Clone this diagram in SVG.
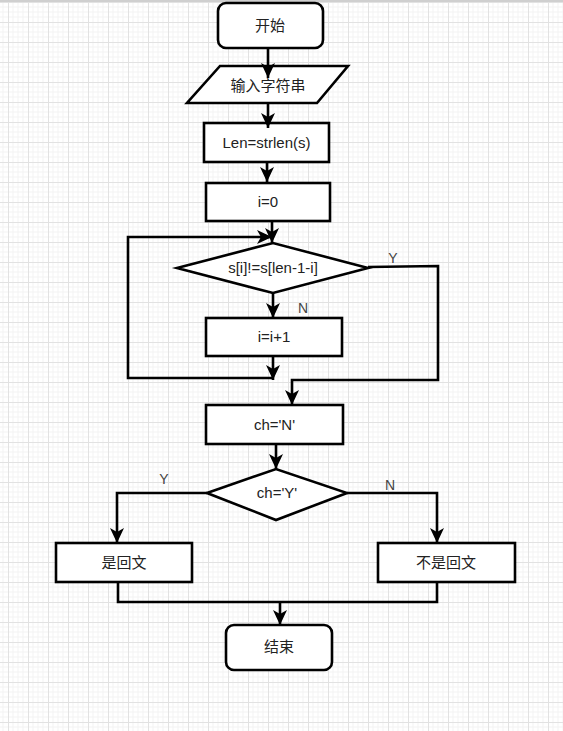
<svg xmlns="http://www.w3.org/2000/svg" width="563" height="731" viewBox="0 0 563 731">
<defs>
<pattern id="grid" patternUnits="userSpaceOnUse" x="8" y="2" width="20" height="20">
<rect width="20" height="20" fill="#ffffff"/>
<path d="M5,0V20M10,0V20M15,0V20M0,5H20M0,10H20M0,15H20" stroke="#f3f3f3" stroke-width="1" fill="none"/>
<path d="M0.5,0V20M0,0.5H20" stroke="#e2e2e2" stroke-width="1" fill="none"/>
</pattern>
<marker id="arr" markerUnits="userSpaceOnUse" markerWidth="16" markerHeight="16" refX="15" refY="7" orient="auto">
<path d="M0,0 L15,7 L0,14 L4,7 z" fill="#000"/>
</marker>
<style>
.box{fill:#fff;stroke:#000;stroke-width:2.6}
.ln{fill:none;stroke:#000;stroke-width:2.6}
.t{font-family:"Liberation Sans","Noto Sans CJK SC",sans-serif;font-size:15px;fill:#222;text-anchor:middle}
.lb{font-family:"Liberation Sans",sans-serif;font-size:14px;fill:#444;text-anchor:middle}
</style>
</defs>
<rect width="563" height="731" fill="url(#grid)"/>
<rect x="0" y="0" width="563" height="2" fill="#cfcfcf"/>

<g id="start">
<rect class="box" x="218" y="3" width="105" height="45" rx="8"/>
<text class="t" x="270" y="31">开始</text>
</g>
<g id="input">
<polygon class="box" points="220,66 348,66 317,103 187,103"/>
<text class="t" x="268" y="91">输入字符串</text>
</g>
<g id="len">
<rect class="box" x="204" y="123" width="125" height="39"/>
<text class="t" x="266.5" y="148">Len=strlen(s)</text>
</g>
<g id="init">
<rect class="box" x="206" y="183" width="124" height="38"/>
<text class="t" x="268" y="207">i=0</text>
</g>
<g id="cond1">
<polygon class="box" points="177,268 273,243 368,268 273,293"/>
<text class="t" x="273" y="273">s[i]!=s[len-1-i]</text>
</g>
<g id="inc">
<rect class="box" x="206" y="318" width="136" height="38"/>
<text class="t" x="274" y="342">i=i+1</text>
</g>
<g id="setN">
<rect class="box" x="206" y="405" width="137" height="39"/>
<text class="t" x="274.5" y="430">ch='N'</text>
</g>
<g id="cond2">
<polygon class="box" points="207,493 276,469 347,493 276,520"/>
<text class="t" x="277" y="498">ch='Y'</text>
</g>
<g id="yes">
<rect class="box" x="56" y="543" width="136" height="39"/>
<text class="t" x="124" y="568">是回文</text>
</g>
<g id="no">
<rect class="box" x="378" y="543" width="137" height="39"/>
<text class="t" x="446" y="568">不是回文</text>
</g>
<g id="end">
<rect class="box" x="226" y="625" width="106" height="45" rx="8"/>
<text class="t" x="279" y="652">结束</text>
</g>

<g id="connectors">
<path class="ln" d="M268,48V78" marker-end="url(#arr)"/>
<path class="ln" d="M268,103V128" marker-end="url(#arr)"/>
<path class="ln" d="M267,162V182" marker-end="url(#arr)"/>
<path class="ln" d="M272,221V243" marker-end="url(#arr)"/>
<path class="ln" d="M273,293V318" marker-end="url(#arr)"/>
<path class="ln" d="M273,356V380" marker-end="url(#arr)"/>
<path class="ln" d="M273,378H128V237H272" marker-end="url(#arr)"/>
<path class="ln" d="M368,267L438,266V380H292V405" marker-end="url(#arr)"/>
<path class="ln" d="M276,444V469" marker-end="url(#arr)"/>
<path class="ln" d="M207,493H117V543" marker-end="url(#arr)"/>
<path class="ln" d="M347,493H437V543" marker-end="url(#arr)"/>
<path class="ln" d="M118,582V602H437V582"/>
<path class="ln" d="M280,602V625" marker-end="url(#arr)"/>
<text class="lb" x="393" y="263">Y</text>
<text class="lb" x="303" y="313">N</text>
<text class="lb" x="164" y="484">Y</text>
<text class="lb" x="390" y="490">N</text>
</g>
</svg>
